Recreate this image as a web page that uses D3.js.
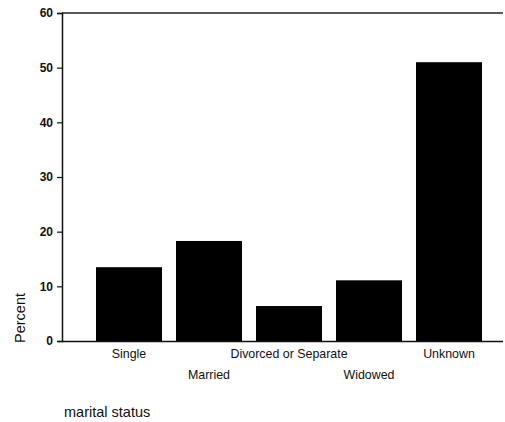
<!DOCTYPE html>
<html><head><meta charset="utf-8">
<script src="https://cdn.jsdelivr.net/npm/d3@7"></script>
<style>body{margin:0;background:#fff}svg{display:block}</style>
</head><body>
<script>
const categories = ["Single","Married","Divorced or Separate","Widowed","Unknown"];
const percents = [13.5, 18.3, 6.4, 11.1, 51.0];
const yTicks = [0,10,20,30,40,50,60];

const W=505,H=422;
const svg=d3.select("body").append("svg").attr("width",W).attr("height",H);
const font="Liberation Sans, Arial, sans-serif";
const y=d3.scaleLinear().domain([0,60]).range([341,13]);
const x=d3.scaleBand().domain(categories).range([89,489]).paddingInner(0.175).paddingOuter(0.0875);

svg.selectAll("rect.bar").data(percents).enter().append("rect")
  .attr("x",(d,i)=>x(categories[i])).attr("width",x.bandwidth())
  .attr("y",d=>y(d)).attr("height",d=>y(0)-y(d)).attr("fill","#000");

// frame lines
svg.append("line").attr("x1",62).attr("x2",503).attr("y1",y(60)).attr("y2",y(60)).attr("stroke","#222").attr("stroke-width",1.5);
svg.append("line").attr("x1",62).attr("x2",503).attr("y1",y(0)+0.5).attr("y2",y(0)+0.5).attr("stroke","#111").attr("stroke-width",1.5);

const ya=svg.append("g").attr("transform","translate(62,0)")
  .call(d3.axisLeft(y).tickValues(yTicks).tickSize(5).tickPadding(4));
ya.select(".domain").attr("stroke","#111").attr("stroke-width",1.5);
ya.selectAll(".tick line").attr("stroke","#111").attr("stroke-width",1.2);
ya.selectAll("text").attr("font-family",font).attr("font-size",12).attr("font-weight","bold").attr("fill","#111");

categories.forEach((c,i)=>{
  svg.append("text").attr("x",x(c)+x.bandwidth()/2).attr("y",i%2===0?358:379)
    .attr("text-anchor","middle").attr("font-family",font).attr("font-size",12.4).attr("fill","#111").text(c);
});

svg.append("text").attr("transform","translate(25,318) rotate(-90)").attr("text-anchor","middle")
  .attr("font-family",font).attr("font-size",14.5).attr("fill","#111").text("Percent");
svg.append("text").attr("x",64).attr("y",417).attr("font-family",font).attr("font-size",14.5).attr("fill","#111").text("marital status");
</script>
</body></html>
